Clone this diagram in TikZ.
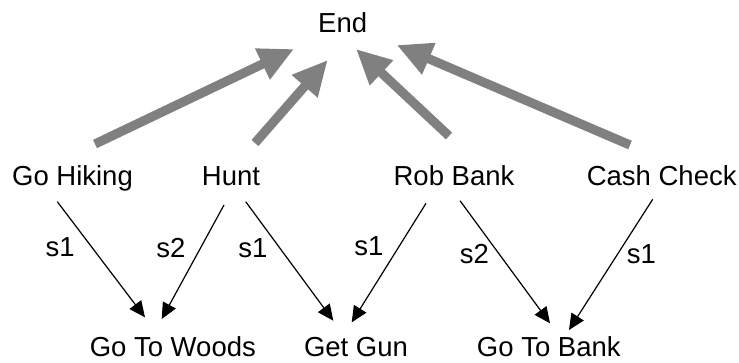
\documentclass[tikz,border=0pt]{standalone}
\usepackage{fontspec}
\setmainfont{Liberation Sans}
\usetikzlibrary{arrows.meta,calc}

\tikzset{
  state/.style={anchor=base, inner sep=0pt, font=\fontsize{27.5}{33}\selectfont},
  lbl/.style={inner sep=0pt, font=\fontsize{27.5}{33}\selectfont},
  goal/.style={line width=9.2pt, draw=black!50, -{Triangle[length=35pt,width=32pt]}},
  sub/.style={line width=1.2pt, -{Triangle[length=16pt,width=14.5pt]}}
}

\begin{document}
\begin{tikzpicture}[x=1pt,y=-1pt]
  \useasboundingbox (0,0) rectangle (739,362);

  % top goal
  \node[state] (end) at (342.7,32.7) {End};

  % plans
  \node[state] (hike) at (72.5,185) {Go Hiking};
  \node[state] (hunt) at (231,185) {Hunt};
  \node[state] (rob)  at (454,185) {Rob Bank};
  \node[state] (cash) at (661.7,185) {Cash Check};

  % steps
  \node[state] (woods) at (172.8,356) {Go To Woods};
  \node[state] (gun)   at (356,356) {Get Gun};
  \node[state] (bank)  at (548.8,356) {Go To Bank};

  % plans lead to the goal
  \draw[goal] ($(hike.base)+(22.5,-41)$) -- ($(end.base)+(-48.7,16.3)$);
  \draw[goal] ($(hunt.base)+(24,-42)$) -- ($(end.base)+(-15,27.3)$);
  \draw[goal] ($(rob.base)+(-5,-49)$) -- ($(end.base)+(13.3,16.3)$);
  \draw[goal] ($(cash.base)+(-31.7,-40)$) -- ($(end.base)+(54,12.3)$);

  % plans need steps
  \draw[sub] ($(hike.base)+(-15.2,16.7)$) -- ($(woods.base)+(-27.8,-38.7)$)
    node[lbl, midway, shift={(-41,-12)}] (l1) {s1};
  \draw[sub] ($(hunt.base)+(-7,20)$) -- ($(woods.base)+(-11.1,-37)$)
    node[lbl, midway, shift={(-22,-14)}] (l2) {s2};
  \draw[sub] ($(hunt.base)+(14.7,16.7)$) -- ($(gun.base)+(-22.7,-35.3)$)
    node[lbl, midway, shift={(-36.5,-13)}] (l3) {s1};
  \draw[sub] ($(rob.base)+(-28,18.3)$) -- ($(gun.base)+(-4.3,-33.7)$)
    node[lbl, midway, shift={(-20,-17)}] (l4) {s1};
  \draw[sub] ($(rob.base)+(6,15.7)$) -- ($(bank.base)+(1.2,-32.7)$)
    node[lbl, midway, shift={(-30.5,-8)}] (l5) {s2};
  \draw[sub] ($(cash.base)+(-9,14.3)$) -- ($(bank.base)+(20.2,-26)$)
    node[lbl, midway, shift={(30.6,-10)}] (l6) {s1};
\end{tikzpicture}
\end{document}
